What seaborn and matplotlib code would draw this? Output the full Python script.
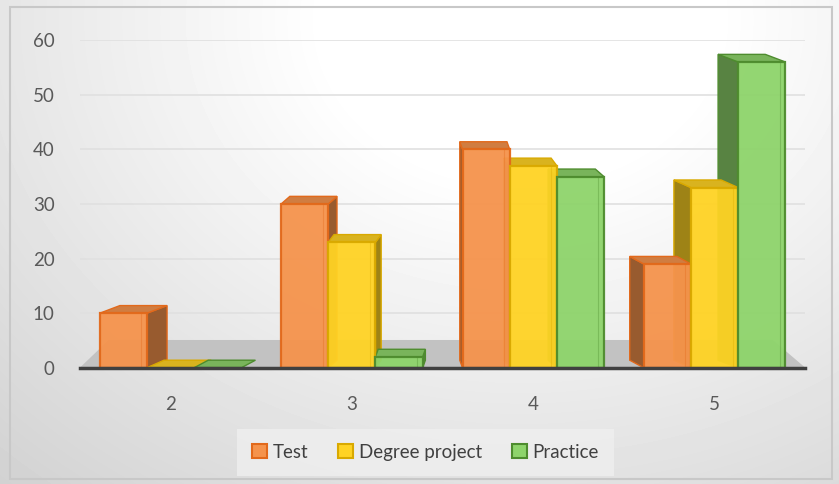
import numpy as np
import pandas as pd
import matplotlib
matplotlib.use("Agg")
import matplotlib.pyplot as plt
from matplotlib.patches import Polygon, Rectangle, Patch
import matplotlib.colors as mcolors
import seaborn as sns

# Grades and counts per assessment type
grades = ["2", "3", "4", "5"]
test = [10, 30, 40, 19]
degree_project = [0, 23, 37, 33]
practice = [0, 2, 35, 56]
series_names = ["Test", "Degree project", "Practice"]
y_ticks = [0, 10, 20, 30, 40, 50, 60]

fills = ["#F5934C", "#FFD324", "#8ED46B"]
edges = ["#E2691B", "#D9A900", "#4E8C2E"]

df = pd.DataFrame({
    "grade": grades * 3,
    "value": test + degree_project + practice,
    "series": sum([[s] * len(grades) for s in series_names], []),
})

sns.set_theme(style="white")
plt.rcParams["font.family"] = ["Lato", "DejaVu Sans"]

fig = plt.figure(figsize=(8.39, 4.84), dpi=100)

# soft grey-to-white background
bg = fig.add_axes([0, 0, 1, 1], zorder=-10)
h, w = 484, 839
yy, xx = np.mgrid[0:h, 0:w]
d = np.sqrt(((xx - 520) / 520) ** 2 + ((yy - 20) / 420) ** 2)
shade = np.clip(1.06 - 0.16 * d, 0.82, 1.0)
bg.imshow(shade, cmap="gray", vmin=0, vmax=1, aspect="auto",
          extent=[0, 1, 0, 1], origin="upper")
bg.add_patch(Rectangle((0.012, 0.01), 0.98, 0.975, fill=False,
                       edgecolor="#c8c8c8", lw=1.5, transform=bg.transAxes))
bg.set_axis_off()

ax = fig.add_axes([0.095, 0.24, 0.865, 0.677])
ax.patch.set_alpha(0)

# floor of the plot area
floor = Polygon([[0.0, 0.0], [1.0, 0.0], [0.955, 0.085], [0.04, 0.085]],
                closed=True, facecolor="#c2c2c2", edgecolor="none",
                transform=ax.transAxes, zorder=0.5)
ax.add_patch(floor)

sns.barplot(data=df, x="grade", y="value", hue="series", order=grades,
            hue_order=series_names, palette=fills, width=0.78,
            ax=ax, legend=False, zorder=2, saturation=1)


def shaded(color, factor):
    r, g, b = mcolors.to_rgb(color)
    return (r * factor, g * factor, b * factor)


# pseudo-3D depth: side and top faces built from each bar's geometry
depth_y = 1.4
for i, container in enumerate(ax.containers):
    for bar in container:
        bar.set_edgecolor(edges[i])
        bar.set_linewidth(1.6)
        bar.set_alpha(0.95)
        x0, bw, bh = bar.get_x(), bar.get_width(), bar.get_height()
        cx = x0 + bw / 2
        dx = -0.095 * (cx - 1.5) / 1.5
        # side face
        sx = x0 + bw if dx > 0 else x0
        if bh > 0:
            side = Polygon([[sx, 0], [sx + dx, depth_y],
                            [sx + dx, bh + depth_y], [sx, bh]],
                           closed=True, facecolor=shaded(fills[i], 0.62),
                           edgecolor=edges[i], lw=1.0, zorder=1.6)
            ax.add_patch(side)
        # top face
        top = Polygon([[x0, bh], [x0 + bw, bh], [x0 + bw + dx, bh + depth_y],
                       [x0 + dx, bh + depth_y]],
                      closed=True, facecolor=shaded(fills[i], 0.85),
                      edgecolor=edges[i], lw=1.0, zorder=1.7)
        ax.add_patch(top)
        if bh > 0:
            inset = bw * 0.12
            ax.plot([x0 + bw - inset, x0 + bw - inset], [0, bh],
                    color=edges[i], lw=0.8, alpha=0.35, zorder=3)

ax.set_ylim(0, 60)
ax.set_xlim(-0.5, 3.5)
ax.set_yticks(y_ticks)
ax.set_yticklabels([str(t) for t in y_ticks])
ax.yaxis.grid(True, color="#e0e0e0", lw=1.2, zorder=0)
ax.set_axisbelow(True)
ax.set_xlabel("")
ax.set_ylabel("")
for s in ["top", "right", "left"]:
    ax.spines[s].set_visible(False)
ax.spines["bottom"].set_color("#404040")
ax.spines["bottom"].set_linewidth(2.5)
ax.spines["bottom"].set_zorder(4)
ax.tick_params(axis="y", length=0, pad=18, labelsize=13.5, labelcolor="#595959")
ax.tick_params(axis="x", length=0, pad=20, labelsize=13.5, labelcolor="#595959")

handles = [Patch(facecolor=fills[i], edgecolor=edges[i], lw=1.5)
           for i in range(3)]
leg = fig.legend(handles, series_names, loc="center",
                 bbox_to_anchor=(0.507, 0.066), ncol=3, frameon=True,
                 fontsize=13.5, handlelength=0.8, handleheight=0.8,
                 handletextpad=0.3, columnspacing=1.6,
                 borderpad=0.8, fancybox=False)
leg.get_frame().set_facecolor("#efefef")
leg.get_frame().set_edgecolor("none")
for t in leg.get_texts():
    t.set_color("#404040")

fig.savefig("out.png", dpi=100)
